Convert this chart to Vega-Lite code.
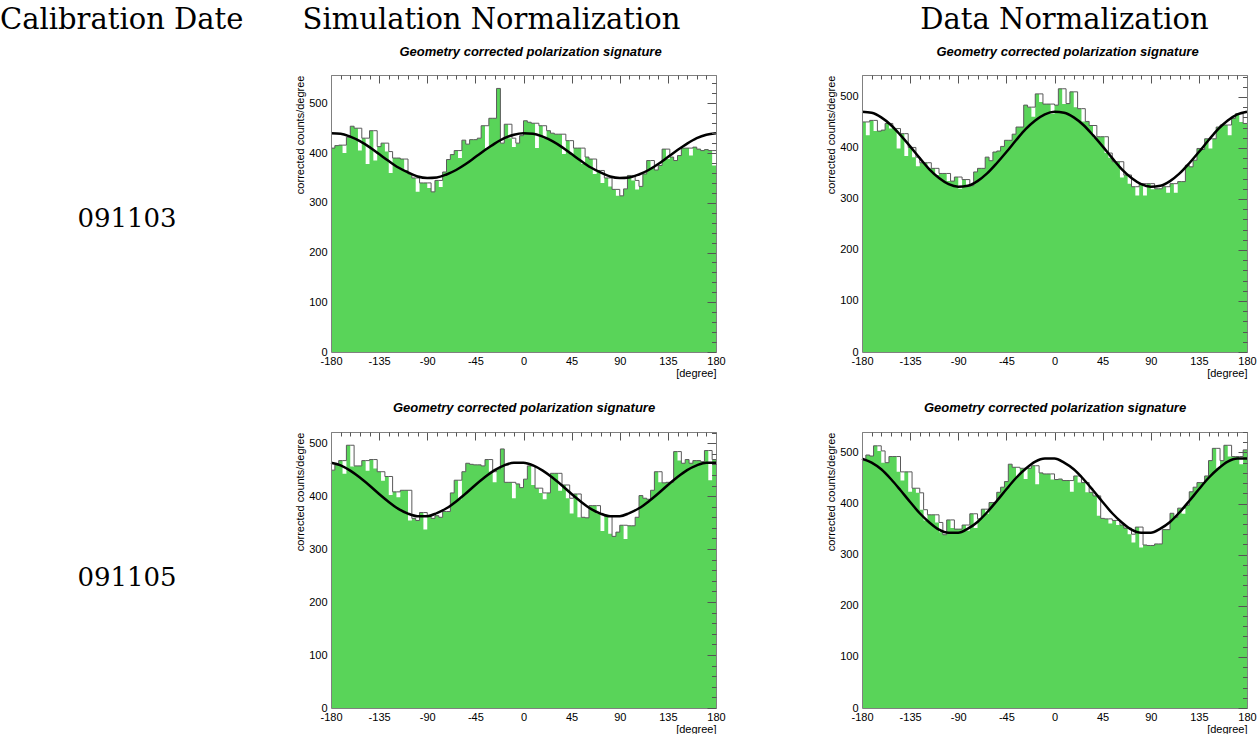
{
"$schema": "https://vega.github.io/schema/vega-lite/v6.json",
"background": "white",
"padding": {"top": 6, "left": 0, "right": 0, "bottom": 0},
"config": {
  "view": {"stroke": null},
  "axis": {"labelFont": "Liberation Sans", "labelFontSize": 11, "labelColor": "#000", "titleFont": "Liberation Sans", "titleFontSize": 11, "titleFontWeight": "normal", "titleColor": "#000", "grid": false, "tickColor": "#555", "tickWidth": 1, "labelExpr": "'' + datum.value"},
  "title": {"font": "DejaVu Serif", "fontSize": 29, "fontWeight": "normal", "color": "#000", "frame": "group"}
},
"datasets": {
  "h": [
    {"x":-180,"a":410,"b":451,"c":449,"d":484,"fa":410,"fb":451,"fc":449,"fd":484},
    {"x":-176.4,"a":415,"b":451,"c":459,"d":495,"fa":415,"fb":425,"fc":459,"fd":495},
    {"x":-172.8,"a":416,"b":454,"c":467,"d":493,"fa":416,"fb":454,"fc":467,"fd":493},
    {"x":-169.2,"a":416,"b":454,"c":467,"d":513,"fa":400,"fb":433,"fc":442,"fd":513},
    {"x":-165.6,"a":432,"b":433,"c":496,"d":513,"fa":432,"fb":433,"fc":496,"fd":503},
    {"x":-162,"a":454,"b":435,"c":496,"d":503,"fa":454,"fb":435,"fc":456,"fd":480},
    {"x":-158.4,"a":450,"b":448,"c":457,"d":480,"fa":450,"fb":448,"fc":457,"fd":480},
    {"x":-154.8,"a":450,"b":448,"c":457,"d":492,"fa":405,"fb":438,"fc":457,"fd":492},
    {"x":-151.2,"a":430,"b":438,"c":467,"d":492,"fa":430,"fb":438,"fc":467,"fd":492},
    {"x":-147.6,"a":430,"b":438,"c":467,"d":492,"fa":378,"fb":399,"fc":448,"fd":462},
    {"x":-144,"a":445,"b":428,"c":469,"d":462,"fa":445,"fb":428,"fc":469,"fd":445},
    {"x":-140.4,"a":445,"b":428,"c":469,"d":462,"fa":385,"fb":384,"fc":452,"fd":462},
    {"x":-136.8,"a":413,"b":401,"c":446,"d":462,"fa":413,"fb":401,"fc":446,"fd":423},
    {"x":-133.2,"a":420,"b":401,"c":446,"d":430,"fa":420,"fb":382,"fc":429,"fd":430},
    {"x":-129.6,"a":420,"b":382,"c":437,"d":430,"fa":403,"fb":364,"fc":437,"fd":421},
    {"x":-126,"a":403,"b":371,"c":437,"d":421,"fa":360,"fb":371,"fc":402,"fd":388},
    {"x":-122.4,"a":390,"b":371,"c":408,"d":388,"fa":390,"fb":371,"fc":408,"fd":367},
    {"x":-118.8,"a":390,"b":371,"c":408,"d":378,"fa":390,"fb":360,"fc":398,"fd":378},
    {"x":-115.2,"a":388,"b":360,"c":411,"d":378,"fa":388,"fb":360,"fc":411,"fd":378},
    {"x":-111.6,"a":388,"b":360,"c":411,"d":378,"fa":366,"fb":347,"fc":411,"fd":363},
    {"x":-108,"a":358,"b":350,"c":411,"d":363,"fa":358,"fb":350,"fc":354,"fd":344},
    {"x":-104.4,"a":350,"b":350,"c":358,"d":339,"fa":350,"fb":350,"fc":358,"fd":339},
    {"x":-100.8,"a":350,"b":350,"c":354,"d":368,"fa":322,"fb":335,"fc":354,"fd":368},
    {"x":-97.2,"a":340,"b":335,"c":369,"d":368,"fa":340,"fb":335,"fc":369,"fd":352},
    {"x":-93.6,"a":340,"b":343,"c":369,"d":350,"fa":340,"fb":343,"fc":337,"fd":350},
    {"x":-90,"a":340,"b":343,"c":363,"d":350,"fa":330,"fb":320,"fc":363,"fd":350},
    {"x":-86.4,"a":322,"b":338,"c":358,"d":358,"fa":322,"fb":338,"fc":358,"fd":358},
    {"x":-82.8,"a":345,"b":338,"c":363,"d":358,"fa":345,"fb":326,"fc":363,"fd":347},
    {"x":-79.2,"a":345,"b":326,"c":360,"d":380,"fa":332,"fb":326,"fc":360,"fd":380},
    {"x":-75.6,"a":362,"b":353,"c":371,"d":380,"fa":362,"fb":353,"fc":371,"fd":352},
    {"x":-72,"a":387,"b":360,"c":371,"d":370,"fa":387,"fb":360,"fc":371,"fd":370},
    {"x":-68.4,"a":397,"b":360,"c":406,"d":389,"fa":397,"fb":360,"fc":406,"fd":389},
    {"x":-64.8,"a":405,"b":382,"c":430,"d":389,"fa":405,"fb":382,"fc":430,"fd":380},
    {"x":-61.2,"a":405,"b":375,"c":430,"d":402,"fa":390,"fb":375,"fc":394,"fd":402},
    {"x":-57.6,"a":426,"b":392,"c":446,"d":402,"fa":426,"fb":392,"fc":446,"fd":402},
    {"x":-54,"a":418,"b":394,"c":462,"d":422,"fa":418,"fb":394,"fc":462,"fd":422},
    {"x":-50.4,"a":427,"b":403,"c":460,"d":432,"fa":427,"fb":403,"fc":460,"fd":432},
    {"x":-46.8,"a":427,"b":415,"c":459,"d":443,"fa":427,"fb":415,"fc":459,"fd":443},
    {"x":-43.2,"a":430,"b":415,"c":459,"d":477,"fa":430,"fb":415,"fc":459,"fd":477},
    {"x":-39.6,"a":455,"b":427,"c":457,"d":471,"fa":455,"fb":427,"fc":457,"fd":471},
    {"x":-36,"a":455,"b":441,"c":469,"d":471,"fa":410,"fb":441,"fc":469,"fd":454},
    {"x":-32.4,"a":470,"b":441,"c":469,"d":469,"fa":470,"fb":441,"fc":446,"fd":469},
    {"x":-28.8,"a":470,"b":484,"c":446,"d":469,"fa":470,"fb":484,"fc":426,"fd":448},
    {"x":-25.2,"a":530,"b":480,"c":451,"d":469,"fa":530,"fb":480,"fc":451,"fd":469},
    {"x":-21.6,"a":420,"b":480,"c":489,"d":474,"fa":420,"fb":461,"fc":489,"fd":474},
    {"x":-18,"a":458,"b":506,"c":426,"d":474,"fa":458,"fb":506,"fc":426,"fd":438},
    {"x":-14.4,"a":458,"b":506,"c":426,"d":460,"fa":430,"fb":490,"fc":426,"fd":460},
    {"x":-10.8,"a":430,"b":486,"c":426,"d":458,"fa":412,"fb":486,"fc":396,"fd":458},
    {"x":-7.2,"a":420,"b":486,"c":423,"d":458,"fa":420,"fb":486,"fc":423,"fd":458},
    {"x":-3.6,"a":435,"b":486,"c":416,"d":458,"fa":435,"fb":467,"fc":416,"fd":447},
    {"x":0,"a":465,"b":484,"c":432,"d":447,"fa":465,"fb":484,"fc":432,"fd":447},
    {"x":3.6,"a":462,"b":516,"c":457,"d":448,"fa":462,"fb":516,"fc":457,"fd":448},
    {"x":7.2,"a":460,"b":516,"c":457,"d":445,"fa":460,"fb":486,"fc":421,"fd":445},
    {"x":10.8,"a":460,"b":487,"c":415,"d":445,"fa":410,"fb":487,"fc":415,"fd":445},
    {"x":14.4,"a":455,"b":510,"c":415,"d":445,"fa":455,"fb":510,"fc":406,"fd":423},
    {"x":18,"a":455,"b":510,"c":406,"d":454,"fa":430,"fb":480,"fc":394,"fd":454},
    {"x":21.6,"a":445,"b":477,"c":406,"d":454,"fa":445,"fb":477,"fc":406,"fd":441},
    {"x":25.2,"a":440,"b":477,"c":443,"d":441,"fa":440,"fb":452,"fc":443,"fd":441},
    {"x":28.8,"a":438,"b":452,"c":443,"d":441,"fa":438,"fb":452,"fc":443,"fd":422},
    {"x":32.4,"a":438,"b":444,"c":443,"d":422,"fa":438,"fb":444,"fc":410,"fd":422},
    {"x":36,"a":438,"b":444,"c":421,"d":415,"fa":398,"fb":420,"fc":421,"fd":415},
    {"x":39.6,"a":425,"b":422,"c":421,"d":415,"fa":425,"fb":422,"fc":396,"fd":376},
    {"x":43.2,"a":425,"b":422,"c":396,"d":371,"fa":398,"fb":422,"fc":367,"fd":371},
    {"x":46.8,"a":410,"b":422,"c":404,"d":370,"fa":410,"fb":390,"fc":404,"fd":370},
    {"x":50.4,"a":410,"b":390,"c":404,"d":370,"fa":410,"fb":381,"fc":360,"fd":361},
    {"x":54,"a":410,"b":373,"c":360,"d":367,"fa":378,"fb":373,"fc":360,"fd":367},
    {"x":57.6,"a":392,"b":373,"c":359,"d":367,"fa":392,"fb":373,"fc":359,"fd":358},
    {"x":61.2,"a":388,"b":373,"c":382,"d":358,"fa":388,"fb":342,"fc":382,"fd":358},
    {"x":64.8,"a":388,"b":347,"c":382,"d":352,"fa":358,"fb":347,"fc":382,"fd":352},
    {"x":68.4,"a":365,"b":347,"c":382,"d":352,"fa":365,"fb":330,"fc":366,"fd":340},
    {"x":72,"a":365,"b":324,"c":366,"d":340,"fa":340,"fb":324,"fc":334,"fd":324},
    {"x":75.6,"a":350,"b":324,"c":362,"d":354,"fa":350,"fb":307,"fc":362,"fd":354},
    {"x":79.2,"a":350,"b":330,"c":362,"d":354,"fa":333,"fb":330,"fc":329,"fd":314},
    {"x":82.8,"a":327,"b":330,"c":324,"d":319,"fa":327,"fb":307,"fc":324,"fd":319},
    {"x":86.4,"a":327,"b":330,"c":332,"d":318,"fa":314,"fb":330,"fc":332,"fd":318},
    {"x":90,"a":314,"b":330,"c":345,"d":318,"fa":314,"fb":319,"fc":345,"fd":318},
    {"x":93.6,"a":328,"b":320,"c":345,"d":321,"fa":328,"fb":320,"fc":319,"fd":321},
    {"x":97.2,"a":355,"b":320,"c":344,"d":321,"fa":355,"fb":320,"fc":344,"fd":321},
    {"x":100.8,"a":355,"b":324,"c":344,"d":349,"fa":345,"fb":324,"fc":344,"fd":349},
    {"x":104.4,"a":345,"b":324,"c":360,"d":349,"fa":327,"fb":312,"fc":360,"fd":349},
    {"x":108,"a":333,"b":330,"c":401,"d":381,"fa":333,"fb":330,"fc":401,"fd":381},
    {"x":111.6,"a":358,"b":330,"c":396,"d":373,"fa":358,"fb":312,"fc":396,"fd":373},
    {"x":115.2,"a":385,"b":334,"c":394,"d":391,"fa":385,"fb":334,"fc":394,"fd":391},
    {"x":118.8,"a":385,"b":334,"c":411,"d":391,"fa":370,"fb":334,"fc":411,"fd":380},
    {"x":122.4,"a":366,"b":366,"c":446,"d":397,"fa":366,"fb":366,"fc":446,"fd":397},
    {"x":126,"a":375,"b":363,"c":446,"d":423,"fa":375,"fb":363,"fc":426,"fd":423},
    {"x":129.6,"a":408,"b":376,"c":425,"d":432,"fa":408,"fb":376,"fc":425,"fd":432},
    {"x":133.2,"a":408,"b":399,"c":426,"d":441,"fa":388,"fb":399,"fc":426,"fd":441},
    {"x":136.8,"a":392,"b":397,"c":426,"d":441,"fa":392,"fb":397,"fc":426,"fd":441},
    {"x":140.4,"a":385,"b":418,"c":484,"d":454,"fa":385,"fb":418,"fc":484,"fd":454},
    {"x":144,"a":395,"b":418,"c":484,"d":484,"fa":395,"fb":399,"fc":467,"fd":484},
    {"x":147.6,"a":410,"b":418,"c":462,"d":508,"fa":410,"fb":418,"fc":462,"fd":508},
    {"x":151.2,"a":410,"b":441,"c":469,"d":508,"fa":410,"fb":441,"fc":469,"fd":469},
    {"x":154.8,"a":410,"b":445,"c":462,"d":484,"fa":395,"fb":445,"fc":462,"fd":484},
    {"x":158.4,"a":412,"b":445,"c":467,"d":514,"fa":412,"fb":445,"fc":467,"fd":514},
    {"x":162,"a":408,"b":445,"c":467,"d":514,"fa":408,"fb":425,"fc":467,"fd":492},
    {"x":165.6,"a":405,"b":458,"c":465,"d":492,"fa":405,"fb":458,"fc":465,"fd":492},
    {"x":169.2,"a":407,"b":467,"c":486,"d":492,"fa":407,"fb":467,"fc":486,"fd":492},
    {"x":172.8,"a":405,"b":467,"c":486,"d":492,"fa":405,"fb":451,"fc":430,"fd":477},
    {"x":176.4,"a":405,"b":448,"c":469,"d":505,"fa":375,"fb":448,"fc":469,"fd":505},
    {"x":180,"a":405,"b":448,"c":469,"d":505,"fa":375,"fb":448,"fc":469,"fd":505}
  ],
  "fit": [
    {"x":-180,"a":440,"b":471,"c":463,"d":488},{"x":-171,"a":439,"b":469,"c":458,"d":480},{"x":-162,"a":433,"b":460,"c":448,"d":467},{"x":-153,"a":424,"b":445,"c":435,"d":448},{"x":-144,"a":412,"b":425,"c":420,"d":426},
    {"x":-135,"a":398,"b":403,"c":404,"d":403},{"x":-126,"a":384,"b":380,"c":389,"d":381},{"x":-117,"a":371,"b":358,"c":376,"d":363},{"x":-108,"a":361,"b":341,"c":367,"d":349},{"x":-99,"a":353,"b":329,"c":362,"d":343},
    {"x":-90,"a":350,"b":324,"c":362,"d":343},{"x":-81,"a":351,"b":326,"c":368,"d":351},{"x":-72,"a":357,"b":335,"c":377,"d":364},{"x":-63,"a":366,"b":350,"c":390,"d":383},{"x":-54,"a":378,"b":370,"c":405,"d":405},
    {"x":-45,"a":392,"b":392,"c":421,"d":428},{"x":-36,"a":406,"b":415,"c":436,"d":450},{"x":-27,"a":419,"b":437,"c":449,"d":468},{"x":-18,"a":430,"b":454,"c":458,"d":482},{"x":-9,"a":437,"b":466,"c":463,"d":488},
    {"x":0,"a":440,"b":471,"c":463,"d":488},{"x":9,"a":439,"b":469,"c":458,"d":480},{"x":18,"a":433,"b":460,"c":448,"d":467},{"x":27,"a":424,"b":445,"c":435,"d":448},{"x":36,"a":412,"b":425,"c":420,"d":426},
    {"x":45,"a":398,"b":403,"c":404,"d":403},{"x":54,"a":384,"b":380,"c":389,"d":381},{"x":63,"a":371,"b":358,"c":376,"d":363},{"x":72,"a":361,"b":341,"c":367,"d":349},{"x":81,"a":353,"b":329,"c":362,"d":343},
    {"x":90,"a":350,"b":324,"c":362,"d":343},{"x":99,"a":351,"b":326,"c":368,"d":351},{"x":108,"a":357,"b":335,"c":377,"d":364},{"x":117,"a":366,"b":350,"c":390,"d":383},{"x":126,"a":378,"b":370,"c":405,"d":405},
    {"x":135,"a":392,"b":392,"c":421,"d":428},{"x":144,"a":406,"b":415,"c":436,"d":450},{"x":153,"a":419,"b":437,"c":449,"d":468},{"x":162,"a":430,"b":454,"c":458,"d":482},{"x":171,"a":437,"b":466,"c":463,"d":488},
    {"x":180,"a":440,"b":471,"c":463,"d":488}
  ],
  "lab1": [{"t":"091103"}],
  "lab2": [{"t":"091105"}]
},
"spacing": 23,
"vconcat": [
  {"hconcat": [
    {"width": 254, "height": 277, "data": {"name": "lab1"},
     "title": {"text": "Calibration Date", "anchor": "start", "offset": 40},
     "mark": {"type": "text", "font": "DejaVu Serif", "fontSize": 26, "baseline": "middle", "color": "#000", "dy": 5},
     "encoding": {"text": {"field": "t"}}},
    {"hconcat": [
      {"width": 385, "height": 277, "data": {"name": "h"},
       "title": {"text": "Simulation Normalization", "dx": -32, "offset": 10},
       "resolve": {"axis": {"x": "independent", "y": "independent"}},
       "layer": [
        {"mark": {"type": "area", "interpolate": "step-after", "color": "#59d459"},
         "encoding": {
          "x": {"field": "x", "type": "quantitative", "scale": {"domain": [-180,180], "nice": false}, "axis": {"values":[-180,-135,-90,-45,0,45,90,135,180],"ticks":false,"domain":true,"domainColor":"#808080","labelPadding":3,"labelFlush":false,"title":"[degree]","titleAnchor":"end","titlePadding":1,"zindex":1}},
          "y": {"field": "fa", "type": "quantitative", "scale": {"domain": [0,557], "nice": false}, "axis": {"values":[0,100,200,300,400,500],"ticks":false,"domain":true,"domainColor":"#808080","labelPadding":4,"title":"corrected counts/degree","titleAnchor":"end","titlePadding":3,"zindex":1}}}},
        {"mark": {"type": "line", "interpolate": "step-after", "color": "#5a5a5a", "strokeWidth": 1},
         "encoding": {
          "x": {"field": "x", "type": "quantitative", "scale": {"domain": [-180,180], "nice": false}, "axis": {"values":[-180,-135,-90,-45,0,45,90,135,180],"labels":false,"domain":false,"tickSize":-8,"title":null,"zindex":1}},
          "y": {"field": "a", "type": "quantitative", "scale": {"domain": [0,557], "nice": false}, "axis": {"values":[0,100,200,300,400,500],"labels":false,"domain":false,"tickSize":-9,"title":null,"zindex":1}}}},
        {"data": {"name": "fit"}, "mark": {"type": "line", "interpolate": "monotone", "color": "#000", "strokeWidth": 2.5},
         "encoding": {
          "x": {"field": "x", "type": "quantitative", "scale": {"domain": [-180,180], "nice": false}, "axis": {"orient":"top","labels":false,"ticks":false,"domain":true,"domainColor":"#808080","title":"Geometry corrected polarization signature","titleFontStyle":"italic","titleFontWeight":"bold","titleFontSize":13,"titlePadding":17,"titleX":199,"zindex":1}},
          "y": {"field": "a", "type": "quantitative", "scale": {"domain": [0,557], "nice": false}, "axis": {"orient":"right","labels":false,"ticks":false,"domain":true,"domainColor":"#808080","title":null,"zindex":1}}}},
        {"data": {"name": "fit"}, "mark": {"type": "line", "strokeOpacity": 0},
         "encoding": {
          "x": {"field": "x", "type": "quantitative", "scale": {"domain": [-180,180], "nice": false}, "axis": {"values":[-171,-162,-153,-144,-126,-117,-108,-99,-81,-72,-63,-54,-36,-27,-18,-9,9,18,27,36,54,63,72,81,99,108,117,126,144,153,162,171],"labels":false,"domain":false,"tickSize":-4,"title":null,"zindex":1}},
          "y": {"field": "a", "type": "quantitative", "scale": {"domain": [0,557], "nice": false}, "axis": {"values":[20,40,60,80,120,140,160,180,220,240,260,280,320,340,360,380,420,440,460,480,520,540],"labels":false,"domain":false,"tickSize":-4.5,"title":null,"zindex":1}}}}
       ]},
      {"width": 385, "height": 277, "data": {"name": "h"},
       "title": {"text": "Data Normalization", "dx": 10, "offset": 10},
       "resolve": {"axis": {"x": "independent", "y": "independent"}},
       "layer": [
        {"mark": {"type": "area", "interpolate": "step-after", "color": "#59d459"},
         "encoding": {
          "x": {"field": "x", "type": "quantitative", "scale": {"domain": [-180,180], "nice": false}, "axis": {"values":[-180,-135,-90,-45,0,45,90,135,180],"ticks":false,"domain":true,"domainColor":"#808080","labelPadding":3,"labelFlush":false,"title":"[degree]","titleAnchor":"end","titlePadding":1,"zindex":1}},
          "y": {"field": "fb", "type": "quantitative", "scale": {"domain": [0,543], "nice": false}, "axis": {"values":[0,100,200,300,400,500],"ticks":false,"domain":true,"domainColor":"#808080","labelPadding":4,"title":"corrected counts/degree","titleAnchor":"end","titlePadding":3,"zindex":1}}}},
        {"mark": {"type": "line", "interpolate": "step-after", "color": "#5a5a5a", "strokeWidth": 1},
         "encoding": {
          "x": {"field": "x", "type": "quantitative", "scale": {"domain": [-180,180], "nice": false}, "axis": {"values":[-180,-135,-90,-45,0,45,90,135,180],"labels":false,"domain":false,"tickSize":-8,"title":null,"zindex":1}},
          "y": {"field": "b", "type": "quantitative", "scale": {"domain": [0,543], "nice": false}, "axis": {"values":[0,100,200,300,400,500],"labels":false,"domain":false,"tickSize":-9,"title":null,"zindex":1}}}},
        {"data": {"name": "fit"}, "mark": {"type": "line", "interpolate": "monotone", "color": "#000", "strokeWidth": 2.5},
         "encoding": {
          "x": {"field": "x", "type": "quantitative", "scale": {"domain": [-180,180], "nice": false}, "axis": {"orient":"top","labels":false,"ticks":false,"domain":true,"domainColor":"#808080","title":"Geometry corrected polarization signature","titleFontStyle":"italic","titleFontWeight":"bold","titleFontSize":13,"titlePadding":17,"titleX":205,"zindex":1}},
          "y": {"field": "b", "type": "quantitative", "scale": {"domain": [0,543], "nice": false}, "axis": {"orient":"right","labels":false,"ticks":false,"domain":true,"domainColor":"#808080","title":null,"zindex":1}}}},
        {"data": {"name": "fit"}, "mark": {"type": "line", "strokeOpacity": 0},
         "encoding": {
          "x": {"field": "x", "type": "quantitative", "scale": {"domain": [-180,180], "nice": false}, "axis": {"values":[-171,-162,-153,-144,-126,-117,-108,-99,-81,-72,-63,-54,-36,-27,-18,-9,9,18,27,36,54,63,72,81,99,108,117,126,144,153,162,171],"labels":false,"domain":false,"tickSize":-4,"title":null,"zindex":1}},
          "y": {"field": "b", "type": "quantitative", "scale": {"domain": [0,543], "nice": false}, "axis": {"values":[20,40,60,80,120,140,160,180,220,240,260,280,320,340,360,380,420,440,460,480,520,540],"labels":false,"domain":false,"tickSize":-4.5,"title":null,"zindex":1}}}}
       ]}
    ], "spacing": 146, "bounds": "flush"}
  ], "spacing": 77, "bounds": "flush"},
  {"hconcat": [
    {"width": 254, "height": 276, "data": {"name": "lab2"},
     "mark": {"type": "text", "font": "DejaVu Serif", "fontSize": 26, "baseline": "middle", "color": "#000", "dy": 8},
     "encoding": {"text": {"field": "t"}}},
    {"hconcat": [
      {"width": 385, "height": 276, "data": {"name": "h"},
       "resolve": {"axis": {"x": "independent", "y": "independent"}},
       "layer": [
        {"mark": {"type": "area", "interpolate": "step-after", "color": "#59d459"},
         "encoding": {
          "x": {"field": "x", "type": "quantitative", "scale": {"domain": [-180,180], "nice": false}, "axis": {"values":[-180,-135,-90,-45,0,45,90,135,180],"ticks":false,"domain":true,"domainColor":"#808080","labelPadding":3,"labelFlush":false,"title":"[degree]","titleAnchor":"end","titlePadding":1,"zindex":1}},
          "y": {"field": "fc", "type": "quantitative", "scale": {"domain": [0,521], "nice": false}, "axis": {"values":[0,100,200,300,400,500],"ticks":false,"domain":true,"domainColor":"#808080","labelPadding":4,"title":"corrected counts/degree","titleAnchor":"end","titlePadding":3,"zindex":1}}}},
        {"mark": {"type": "line", "interpolate": "step-after", "color": "#5a5a5a", "strokeWidth": 1},
         "encoding": {
          "x": {"field": "x", "type": "quantitative", "scale": {"domain": [-180,180], "nice": false}, "axis": {"values":[-180,-135,-90,-45,0,45,90,135,180],"labels":false,"domain":false,"tickSize":-8,"title":null,"zindex":1}},
          "y": {"field": "c", "type": "quantitative", "scale": {"domain": [0,521], "nice": false}, "axis": {"values":[0,100,200,300,400,500],"labels":false,"domain":false,"tickSize":-9,"title":null,"zindex":1}}}},
        {"data": {"name": "fit"}, "mark": {"type": "line", "interpolate": "monotone", "color": "#000", "strokeWidth": 2.5},
         "encoding": {
          "x": {"field": "x", "type": "quantitative", "scale": {"domain": [-180,180], "nice": false}, "axis": {"orient":"top","labels":false,"ticks":false,"domain":true,"domainColor":"#808080","title":"Geometry corrected polarization signature","titleFontStyle":"italic","titleFontWeight":"bold","titleFontSize":13,"titlePadding":18,"zindex":1}},
          "y": {"field": "c", "type": "quantitative", "scale": {"domain": [0,521], "nice": false}, "axis": {"orient":"right","labels":false,"ticks":false,"domain":true,"domainColor":"#808080","title":null,"zindex":1}}}},
        {"data": {"name": "fit"}, "mark": {"type": "line", "strokeOpacity": 0},
         "encoding": {
          "x": {"field": "x", "type": "quantitative", "scale": {"domain": [-180,180], "nice": false}, "axis": {"values":[-171,-162,-153,-144,-126,-117,-108,-99,-81,-72,-63,-54,-36,-27,-18,-9,9,18,27,36,54,63,72,81,99,108,117,126,144,153,162,171],"labels":false,"domain":false,"tickSize":-4,"title":null,"zindex":1}},
          "y": {"field": "c", "type": "quantitative", "scale": {"domain": [0,521], "nice": false}, "axis": {"values":[20,40,60,80,120,140,160,180,220,240,260,280,320,340,360,380,420,440,460,480,520],"labels":false,"domain":false,"tickSize":-4.5,"title":null,"zindex":1}}}}
       ]},
      {"width": 385, "height": 276, "data": {"name": "h"},
       "resolve": {"axis": {"x": "independent", "y": "independent"}},
       "layer": [
        {"mark": {"type": "area", "interpolate": "step-after", "color": "#59d459"},
         "encoding": {
          "x": {"field": "x", "type": "quantitative", "scale": {"domain": [-180,180], "nice": false}, "axis": {"values":[-180,-135,-90,-45,0,45,90,135,180],"ticks":false,"domain":true,"domainColor":"#808080","labelPadding":3,"labelFlush":false,"title":"[degree]","titleAnchor":"end","titlePadding":1,"zindex":1}},
          "y": {"field": "fd", "type": "quantitative", "scale": {"domain": [0,540], "nice": false}, "axis": {"values":[0,100,200,300,400,500],"ticks":false,"domain":true,"domainColor":"#808080","labelPadding":4,"title":"corrected counts/degree","titleAnchor":"end","titlePadding":3,"zindex":1}}}},
        {"mark": {"type": "line", "interpolate": "step-after", "color": "#5a5a5a", "strokeWidth": 1},
         "encoding": {
          "x": {"field": "x", "type": "quantitative", "scale": {"domain": [-180,180], "nice": false}, "axis": {"values":[-180,-135,-90,-45,0,45,90,135,180],"labels":false,"domain":false,"tickSize":-8,"title":null,"zindex":1}},
          "y": {"field": "d", "type": "quantitative", "scale": {"domain": [0,540], "nice": false}, "axis": {"values":[0,100,200,300,400,500],"labels":false,"domain":false,"tickSize":-9,"title":null,"zindex":1}}}},
        {"data": {"name": "fit"}, "mark": {"type": "line", "interpolate": "monotone", "color": "#000", "strokeWidth": 2.5},
         "encoding": {
          "x": {"field": "x", "type": "quantitative", "scale": {"domain": [-180,180], "nice": false}, "axis": {"orient":"top","labels":false,"ticks":false,"domain":true,"domainColor":"#808080","title":"Geometry corrected polarization signature","titleFontStyle":"italic","titleFontWeight":"bold","titleFontSize":13,"titlePadding":18,"zindex":1}},
          "y": {"field": "d", "type": "quantitative", "scale": {"domain": [0,540], "nice": false}, "axis": {"orient":"right","labels":false,"ticks":false,"domain":true,"domainColor":"#808080","title":null,"zindex":1}}}},
        {"data": {"name": "fit"}, "mark": {"type": "line", "strokeOpacity": 0},
         "encoding": {
          "x": {"field": "x", "type": "quantitative", "scale": {"domain": [-180,180], "nice": false}, "axis": {"values":[-171,-162,-153,-144,-126,-117,-108,-99,-81,-72,-63,-54,-36,-27,-18,-9,9,18,27,36,54,63,72,81,99,108,117,126,144,153,162,171],"labels":false,"domain":false,"tickSize":-4,"title":null,"zindex":1}},
          "y": {"field": "d", "type": "quantitative", "scale": {"domain": [0,540], "nice": false}, "axis": {"values":[20,40,60,80,120,140,160,180,220,240,260,280,320,340,360,380,420,440,460,480,520,540],"labels":false,"domain":false,"tickSize":-4.5,"title":null,"zindex":1}}}}
       ]}
    ], "spacing": 146, "bounds": "flush"}
  ], "spacing": 77, "bounds": "flush"}
]
}
